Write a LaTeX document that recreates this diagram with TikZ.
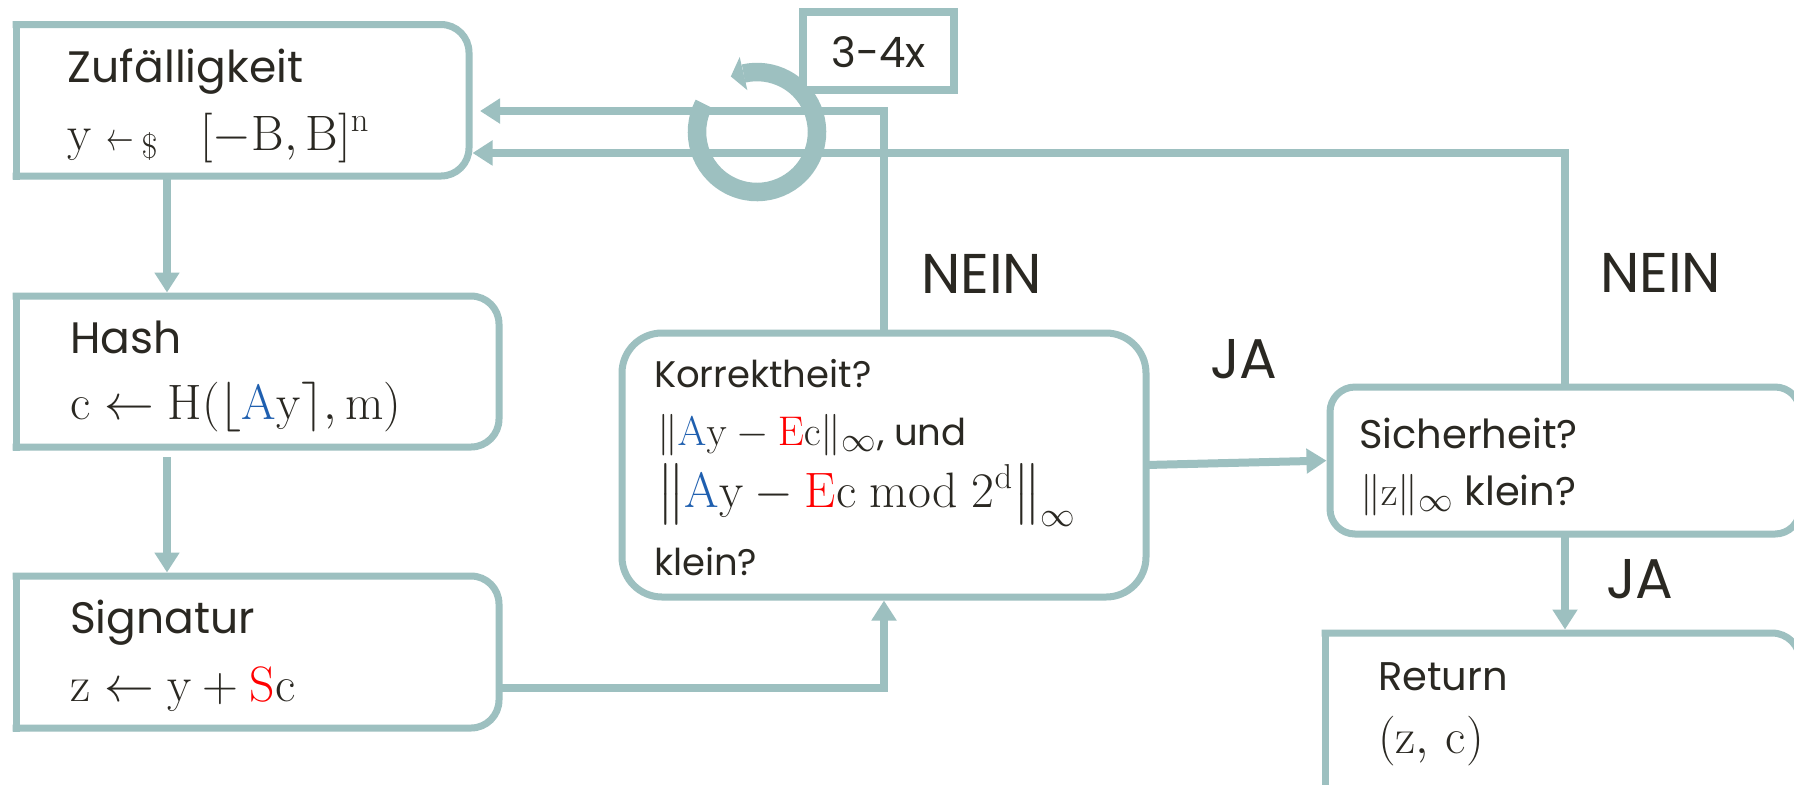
\documentclass[tikz,border=0pt]{standalone}
\usepackage{amsmath}
\usepackage{graphicx}
\usepackage[no-math]{fontspec}
\setmainfont{Poppins}
\usetikzlibrary{arrows.meta,calc}
\definecolor{lineC}{RGB}{157,192,192}
\definecolor{txtC}{RGB}{42,40,34}
\definecolor{blueA}{RGB}{31,95,175}
\definecolor{redS}{RGB}{255,0,0}
\DeclareMathSizes{25.5}{25.5}{19}{14}
\DeclareMathSizes{22}{22}{16.5}{12}
\DeclareMathSizes{23}{23}{17}{12.5}
\newcommand{\halfround}[1]{%
  \draw[border, rounded corners=14pt] (#1.north west) -- (#1.north east) -- (#1.south east) -- (#1.south west);
  \draw[border] (#1.south west) -- (#1.north west);}
\newcommand{\rmv}[1]{\mathrm{#1}}
\newcommand{\smallarrow}{\mathrel{\scalebox{0.55}[0.8]{$\leftarrow$}\kern0.15em{}_{\$}}}
\begin{document}
\begin{tikzpicture}[x=0.5pt,y=0.5pt,
  area/.style={inner sep=0pt, outer sep=0pt, rectangle},
  border/.style={draw=lineC, line width=3.5pt, line cap=rect, line join=miter},
  rbox/.style={area, draw=lineC, line width=3.5pt},
  conn/.style={draw=lineC, line width=4pt, line join=miter, -{Triangle[length=10pt,width=12pt]}, shorten >=1.75pt},
  txt/.style={anchor=base west, inner sep=0pt, outer sep=0pt, text=txtC},
  bigt/.style={txt, font=\fontsize{22}{26}\selectfont},
  bigm/.style={txt, font=\fontsize{25.5}{30}\selectfont},
  korrt/.style={txt, font=\fontsize{18.5}{22}\selectfont},
  sicht/.style={txt, font=\fontsize{20}{24}\selectfont},
  midm/.style={txt, font=\fontsize{23}{26}\selectfont},
  lab/.style={txt, font=\fontsize{28}{33}\selectfont},
]
\useasboundingbox (0,0) rectangle (1794,-784);
\fill[white] (0,0) rectangle (1794,-784);
\clip (0,0) rectangle (1794,-784);

% boxes
\node[area, minimum width=226.5pt, minimum height=75.75pt] (zuf) at (242.5,-100.25) {};
\node[area, minimum width=241.5pt, minimum height=75.5pt] (hash) at (257.5,-371.5) {};
\node[area, minimum width=241.5pt, minimum height=76pt] (sig) at (257.5,-652) {};
\node[area, minimum width=237.5pt, minimum height=93.5pt] (ret) at (1562.5,-726.5) {};
\node[rbox, rounded corners=20pt, minimum width=262pt, minimum height=132pt] (korr) at (884,-465) {};
\node[rbox, rounded corners=12.5pt, minimum width=235pt, minimum height=73.5pt] (sich) at (1565,-460.5) {};
\halfround{zuf}
\halfround{hash}
\halfround{sig}
\halfround{ret}

% texts
\node[bigt] (zuf1) at (68,-82) {Zufälligkeit};
\node[bigm] (zuf2) at (68,-150) {$\rmv{y} \smallarrow\hspace{0.55em}[-\rmv{B},\rmv{B}]^{\rmv{n}}$};
\node[bigt] (hash1) at (70,-353) {Hash};
\node[bigm] (hash2) at (70,-419) {$\rmv{c} \leftarrow \rmv{H}(\lfloor{\color{blueA}\rmv{A}}\rmv{y}\rceil,\rmv{m})$};
\node[bigt] (sig1) at (70,-633) {Signatur};
\node[bigm] (sig2) at (70,-701) {$\rmv{z} \leftarrow \rmv{y} + {\color{redS}\rmv{S}}\rmv{c}$};
\node[korrt] (korr1) at (654,-387) {Korrektheit?};
\node[korrt] (korr2) at (657,-445) {{\fontsize{22}{26}\selectfont$\smash{\|{\color{blueA}\rmv{A}}\rmv{y} - {\color{redS}\rmv{E}}\rmv{c}\|_\infty}$}, und};
\node[midm] (korr3) at (657,-507) {$\smash{\left\|\rule[-7pt]{0pt}{27pt}{\color{blueA}\rmv{A}}\rmv{y} - {\color{redS}\rmv{E}}\rmv{c} \bmod 2^{\rmv{d}}\right\|_\infty}$};
\node[korrt] (korr4) at (654,-575) {klein?};
\node[sicht] (sich1) at (1359,-448) {Sicherheit?};
\node[sicht] (sich2) at (1360,-505) {{\fontsize{22}{26}\selectfont$\smash{\|\rmv{z}\|_\infty}$} klein?};
\node[txt, font=\fontsize{20}{24}\selectfont] (ret1) at (1378,-690) {Return};
\node[bigm] (ret2) at (1378,-753) {$(\rmv{z},\,\rmv{c})$};

% connectors
\draw[conn] ($(zuf.south west)+(151,0)$) -- ($(hash.north west)+(151,0)$);
\draw[conn] ($(hash.south west)+(151,-10)$) -- ($(sig.north west)+(151,0)$);
\draw[conn] ($(sig.south east)!0.263!(sig.north east)$) -| (korr.south);
\draw[conn, shorten >=5.5pt] (korr.north) |- ($(zuf.north east)!0.571!(zuf.south east)$);
\draw[conn] (korr.east) -- (sich.west);
\draw[conn] (sich.north) |- ($(zuf.north east)!0.848!(zuf.south east)$);
\draw[conn] (sich.south) -- (sich.south |- ret.north);

% labels
\node[lab] (nein1) at (921,-293) {NEIN};
\node[lab] (nein2) at (1600,-292) {NEIN};
\node[lab] (ja1) at (1210,-378) {JA};
\node[lab] (ja2) at (1606,-598) {JA};

% loop symbol
\coordinate (ringc) at (757,-132);
\draw[lineC, line width=9.25pt] ($(ringc)+(152:60)$) arc[start angle=152, end angle=463, radius=60];
\fill[lineC] ($(ringc)+(103:43)$) -- ($(ringc)+(103:77)$) -- ($(ringc)+(103:60)+(193:13)$) -- cycle;
\node[area, draw=lineC, fill=white, line width=3.75pt, minimum width=75.5pt, minimum height=39pt] (cnt) at (878.5,-51) {};
\node[txt, anchor=base, font=\fontsize{21}{25}\selectfont] (cntt) at (878.5,-67) {3-4x};
\end{tikzpicture}
\end{document}
